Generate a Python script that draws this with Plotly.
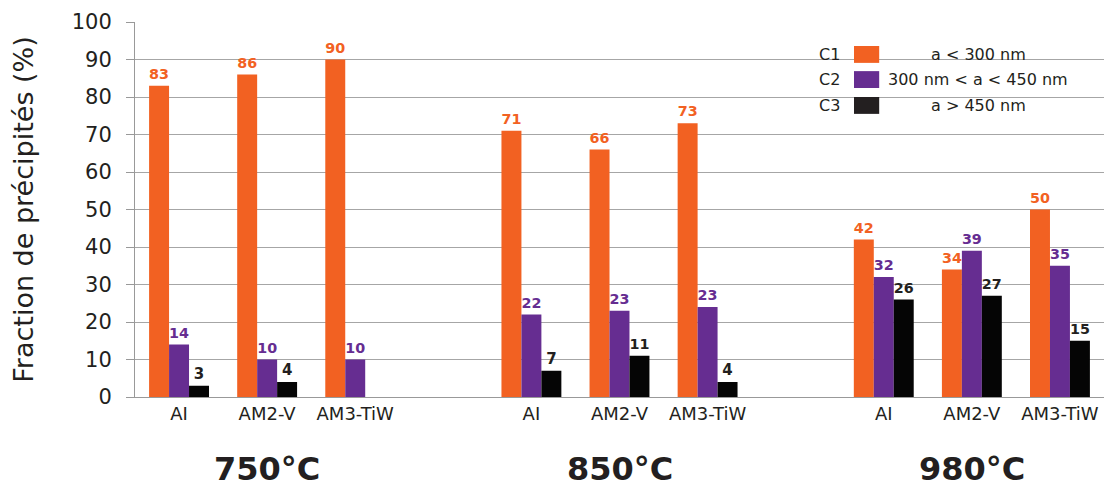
import plotly.graph_objects as go

groups = ["750°C", "850°C", "980°C"]
alloys = ["AI", "AM2-V", "AM3-TiW"]
series_codes = ["C1", "C2", "C3"]
series_names = ["a < 300 nm", "300 nm < a < 450 nm", "a > 450 nm"]
c1 = [83, 86, 90, 71, 66, 73, 42, 34, 50]
c2 = [14, 10, 10, 22, 23, 24, 32, 39, 35]
c3 = [3, 4, None, 7, 11, 4, 26, 27, 15]
c1_labels = ["83", "86", "90", "71", "66", "73", "42", "34", "50"]
c2_labels = ["14", "10", "10", "22", "23", "23", "32", "39", "35"]
c3_labels = ["3", "4", "", "7", "11", "4", "26", "27", "15"]
y_ticks = [0, 10, 20, 30, 40, 50, 60, 70, 80, 90, 100]

colors = ["#F26122", "#662D91", "#050505"]
text_colors = ["#F26122", "#662D91", "#231F20"]
FONT = "DejaVu Sans"

# slot positions: 3 alloys per group, one empty slot between groups
xpos = [g * 4 + i for g in range(len(groups)) for i in range(len(alloys))]
ticktext = [a for g in groups for a in alloys]

fig = go.Figure()
for vals, labels, col, tcol, nm in zip([c1, c2, c3], [c1_labels, c2_labels, c3_labels],
                                       colors, text_colors, series_names):
    fig.add_trace(go.Bar(
        x=xpos, y=vals, name=nm, marker=dict(color=col, line=dict(width=0)),
        text=labels, textposition="outside", cliponaxis=False,
        textfont=dict(family=FONT, size=15, color=tcol, weight="bold"),
        showlegend=False,
    ))

fig.update_layout(
    width=1104, height=487,
    margin=dict(l=135, r=0, t=22, b=90),
    paper_bgcolor="white", plot_bgcolor="white",
    barmode="group", bargap=0.32, bargroupgap=0,
    font=dict(family=FONT, color="#231F20"),
)
fig.update_xaxes(
    range=[-0.5, 10.5], tickmode="array", tickvals=xpos, ticktext=ticktext,
    tickfont=dict(size=18, color="#231F20"), showgrid=False,
    showline=True, linecolor="#999999", linewidth=1, ticks="", zeroline=False,
)
fig.update_yaxes(
    range=[0, 100], tickmode="array", tickvals=y_ticks,
    tickfont=dict(size=21, color="#231F20"),
    showgrid=True, gridcolor="#A6A6A6", gridwidth=1,
    showline=True, linecolor="#999999", linewidth=1,
    ticks="outside", ticklen=8, tickcolor="#999999", ticklabelstandoff=10,
    zeroline=False,
    title=dict(text="Fraction de précipités (%)", font=dict(size=27, color="#231F20"), standoff=30),
)

# group labels
for g, gname in enumerate(groups):
    fig.add_annotation(x=g * 4 + 1, y=-0.192, xref="x", yref="paper", text=gname,
                       showarrow=False, yanchor="middle",
                       font=dict(family=FONT, size=32, color="#231F20", weight="bold"))

# custom legend
rows = [(0.891, 0.936), (0.824, 0.869), (0.755, 0.800)]
for (y0, y1), code, nm, col in zip(rows, series_codes, series_names, ["#F26122", "#662D91", "#231F20"]):
    fig.add_shape(type="rect", xref="paper", yref="paper", x0=0.742, x1=0.768, y0=y0, y1=y1,
                  fillcolor=col, line=dict(width=0))
    yc = (y0 + y1) / 2
    fig.add_annotation(x=0.717, y=yc, xref="paper", yref="paper", text=code, showarrow=False,
                       xanchor="center", yanchor="middle", font=dict(family=FONT, size=16, color="#231F20"))
    fig.add_annotation(x=0.870, y=yc, xref="paper", yref="paper", text=nm, showarrow=False,
                       xanchor="center", yanchor="middle", font=dict(family=FONT, size=16, color="#231F20"))

fig.write_html("out.html", config={"displayModeBar": False},
               post_script="document.body.style.margin='0';")
